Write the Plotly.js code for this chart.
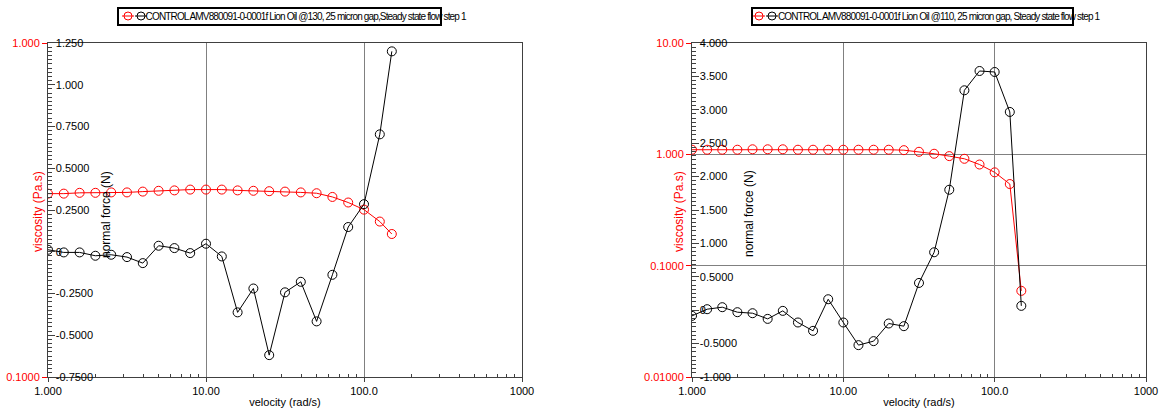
<!DOCTYPE html>
<html>
<head>
<meta charset="utf-8">
<script src="https://cdn.plot.ly/plotly-3.0.1.min.js"></script>
<style>
html,body{margin:0;padding:0;background:#fff;overflow:hidden;}
#chart{width:1162px;height:416px;}
</style>
</head>
<body>
<div id="chart"></div>
<script>
// ---- data ----
var velocity = [1, 1.259, 1.585, 1.995, 2.512, 3.162, 3.981, 5.012, 6.310, 7.943, 10, 12.59, 15.85, 19.95, 25.12, 31.62, 39.81, 50.12, 63.10, 79.43, 100, 125.9, 150];
var viscosity130 = [0.354,0.354,0.356,0.356,0.357,0.357,0.359,0.361,0.362,0.364,0.364,0.364,0.362,0.361,0.360,0.359,0.357,0.355,0.346,0.333,0.317,0.292,0.268];
var normalForce130 = [0.012,-0.004,-0.004,-0.024,-0.018,-0.032,-0.068,0.036,0.022,-0.008,0.048,-0.028,-0.363,-0.220,-0.619,-0.243,-0.180,-0.417,-0.138,0.148,0.285,0.703,1.200];
var viscosity110 = [1.10,1.10,1.10,1.10,1.11,1.11,1.11,1.10,1.10,1.10,1.10,1.10,1.10,1.10,1.09,1.054,1.012,0.964,0.912,0.81,0.689,0.541,0.0594];
var normalForce110 = [-0.085,0.015,0.045,-0.030,-0.045,-0.130,-0.010,-0.184,-0.309,0.164,-0.184,-0.523,-0.463,-0.199,-0.239,0.408,0.867,1.803,3.292,3.581,3.566,2.968,0.065];

var legend130 = "CONTROL AMV880091-0-0001f Lion Oil @130, 25 micron gap,Steady state flow step 1";
var legend110 = "CONTROL AMV880091-0-0001f Lion Oil @110, 25 micron gap, Steady state flow step 1";

var xTickVals = [1, 10, 100, 1000];
var xTickText = ["1.000", "10.00", "100.0", "1000"];
var xMinorVals = [2,3,4,5,6,7,8,9,20,30,40,50,60,70,80,90,200,300,400,500,600,700,800,900];

var visc130TickVals = [0.1, 1];
var visc130TickText = ["0.1000", "1.000"];
var force130TickVals = [-0.75,-0.5,-0.25,0,0.25,0.5,0.75,1,1.25];
var force130TickText = ["-0.7500","-0.5000","-0.2500","0","0.2500","0.5000","0.7500","1.000","1.250"];

var visc110TickVals = [0.01, 0.1, 1, 10];
var visc110TickText = ["0.01000", "0.1000", "1.000", "10.00"];
var force110TickVals = [-1,-0.5,0,0.5,1,1.5,2,2.5,3,3.5,4];
var force110TickText = ["-1.000","-0.5000","0","0.5000","1.000","1.500","2.000","2.500","3.000","3.500","4.000"];

// ---- styling ----
var W = 1162, H = 416;
var FONT = "Liberation Sans, Arial, sans-serif";
var RED = "#ff0000";
var px = function(v){ return v / W; };
var py = function(v){ return 1 - v / H; };
var yDom = [py(377), py(43)];
var dom1 = [px(48), px(522)];
var dom2 = [px(692), px(1146)];

function mk(x, y, color, xa, ya, name) {
  return {
    x: x, y: y, type: "scatter", mode: "lines+markers",
    xaxis: xa, yaxis: ya, name: name, showlegend: false,
    line: {color: color, width: 1},
    marker: {symbol: "circle-open", size: 9, color: color, line: {width: 1, color: color}},
    hoverinfo: "x+y"
  };
}

var data = [
  mk(velocity, viscosity130, RED, "x", "y", "viscosity @130"),
  mk(velocity, normalForce130, "#000", "x", "y2", "normal force @130"),
  mk(velocity, viscosity110, RED, "x2", "y3", "viscosity @110"),
  mk(velocity, normalForce110, "#000", "x2", "y4", "normal force @110")
];

function xAxis(domain, anchor) {
  return {
    type: "log", range: [0, 3], domain: domain, anchor: anchor,
    tickmode: "array", tickvals: xTickVals, ticktext: xTickText,
    ticks: "outside", ticklen: 4, tickcolor: "#404040",
    showgrid: true, gridcolor: "#808080", gridwidth: 1,
    showline: true, linecolor: "#404040", linewidth: 1, mirror: true,
    zeroline: false,
    tickfont: {family: FONT, size: 11, color: "#000"},
    minor: {tickmode: "array", tickvals: xMinorVals, ticks: "inside", ticklen: 3, tickcolor: "#404040", showgrid: false},
    title: {text: "velocity (rad/s)", font: {family: FONT, size: 11, color: "#000"}, standoff: 2}
  };
}
function viscAxis(range, vals, text, anchor) {
  return {
    type: "log", range: range, domain: yDom, anchor: anchor,
    tickmode: "array", tickvals: vals, ticktext: text,
    ticks: "outside", ticklen: 5, tickcolor: RED,
    showgrid: true, gridcolor: "#808080", gridwidth: 1,
    showline: true, linecolor: "#404040", linewidth: 1, mirror: true,
    zeroline: false,
    tickfont: {family: FONT, size: 11, color: RED}
  };
}
function forceAxis(range, vals, text, minorStep, anchor, over) {
  return {
    type: "linear", range: range, anchor: anchor, overlaying: over, side: "left",
    tickmode: "array", tickvals: vals, ticktext: text,
    ticks: "inside", ticklen: 7, tickcolor: "#404040",
    ticklabelposition: "inside", ticklabeloverflow: "allow",
    showgrid: false, zeroline: false, showline: false,
    tickfont: {family: FONT, size: 11, color: "#000"},
    minor: {dtick: minorStep, ticks: "inside", ticklen: 4, tickcolor: "#404040", showgrid: false}
  };
}

function titleAnn(text, xpx, ypx, color) {
  return {
    text: text, xref: "paper", yref: "paper", x: px(xpx), y: py(ypx),
    xanchor: "center", yanchor: "middle", showarrow: false, textangle: -90,
    font: {family: FONT, size: 12, color: color}
  };
}
// legend text centred on the span it occupies in the reference (condensed after render)
function legendText(text, xCenterPx) {
  return {
    text: text, xref: "paper", yref: "paper", x: px(xCenterPx), y: py(16.5),
    xanchor: "center", yanchor: "middle", showarrow: false, borderpad: 0,
    font: {family: FONT, size: 10, color: "#000"}
  };
}
// legend box and key glyphs (decoration)
function legendShapes(boxL, boxR, redC, blackC) {
  var cy = 16, r = 4;
  return [
    {type: "rect", xref: "paper", yref: "paper", x0: px(boxL), x1: px(boxR), y0: py(25), y1: py(8), line: {color: "#000", width: 2}},
    {type: "line", xref: "paper", yref: "paper", x0: px(redC - 6), x1: px(redC + 6), y0: py(cy), y1: py(cy), line: {color: RED, width: 1}},
    {type: "circle", xref: "paper", yref: "paper", x0: px(redC - r), x1: px(redC + r), y0: py(cy + r), y1: py(cy - r), line: {color: RED, width: 1}},
    {type: "line", xref: "paper", yref: "paper", x0: px(blackC - 6), x1: px(blackC + 6), y0: py(cy), y1: py(cy), line: {color: "#000", width: 1}},
    {type: "circle", xref: "paper", yref: "paper", x0: px(blackC - r), x1: px(blackC + r), y0: py(cy + r), y1: py(cy - r), line: {color: "#000", width: 1}}
  ];
}

var layout = {
  width: W, height: H,
  margin: {l: 0, r: 0, t: 0, b: 0, autoexpand: false},
  paper_bgcolor: "#fff", plot_bgcolor: "#fff",
  showlegend: false,
  xaxis: xAxis(dom1, "y"),
  yaxis: viscAxis([-1, 0], visc130TickVals, visc130TickText, "x"),
  yaxis2: forceAxis([-0.75, 1.25], force130TickVals, force130TickText, 0.025, "x", "y"),
  xaxis2: xAxis(dom2, "y3"),
  yaxis3: viscAxis([-2, 1], visc110TickVals, visc110TickText, "x2"),
  yaxis4: forceAxis([-1, 4], force110TickVals, force110TickText, 0.0625, "x2", "y3"),
  shapes: legendShapes(118, 441, 128, 141).concat(legendShapes(752, 1073, 759, 772)),
  annotations: [
    titleAnn("viscosity (Pa.s)", 38, 212, RED),
    titleAnn("normal force (N)", 106, 215, "#000"),
    titleAnn("viscosity (Pa.s)", 679, 212, RED),
    titleAnn("normal force (N)", 749, 214, "#000"),
    legendText(legend130, 306),
    legendText(legend110, 939)
  ]
};

Plotly.newPlot("chart", data, layout, {displayModeBar: false, staticPlot: true}).then(function(gd){
  [4, 5].forEach(function(i){
    var g = gd.querySelector('.annotation[data-index="' + i + '"] .annotation-text');
    if (g) g.style.letterSpacing = "-0.85px";
  });
});
</script>
</body>
</html>
